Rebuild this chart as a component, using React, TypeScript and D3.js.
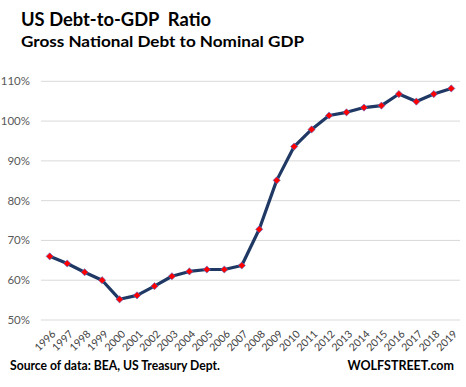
import React from "react";
import * as d3 from "d3";

const years = ["1996","1997","1998","1999","2000","2001","2002","2003","2004","2005","2006","2007","2008","2009","2010","2011","2012","2013","2014","2015","2016","2017","2018","2019"];
const ratio = [66.0,64.2,62.0,60.0,55.2,56.2,58.5,61.0,62.2,62.7,62.7,63.7,72.8,85.1,93.6,97.9,101.4,102.2,103.4,103.9,106.8,104.9,106.8,108.2];
const yTicks = [50,60,70,80,90,100,110];

const W = 466, H = 387;
const left = 41, right = 460, top = 81.3, bottom = 320;

export default function App() {
  const x = d3.scaleBand<string>().domain(years).range([left, right]);
  const y = d3.scaleLinear().domain([50, 110]).range([bottom, top]);
  const line = d3.line<number>()
    .x((_, i) => (x(years[i]) as number) + x.bandwidth() / 2)
    .y(d => y(d));
  const fam = "Lato, 'Open Sans', sans-serif";
  return (
    <svg width={W} height={H} style={{ position: "absolute", left: 0, top: 0, background: "#fff" }}>
      <text x={21} y={26} fontFamily={fam} fontWeight="bold" fontSize={18.5} fill="#000" textLength={190} lengthAdjust="spacingAndGlyphs" style={{ whiteSpace: "pre" }}>US Debt-to-GDP  Ratio</text>
      <text x={21} y={47} fontFamily={fam} fontWeight="bold" fontSize={15.5} fill="#000" textLength={283} lengthAdjust="spacingAndGlyphs">Gross National Debt to Nominal GDP</text>
      {yTicks.map(t => (
        <g key={t}>
          <line x1={left} x2={right} y1={y(t)} y2={y(t)} stroke="#d9d9d9" strokeWidth={1} />
          <text x={30} y={y(t)} dy="0.35em" textAnchor="end" fontFamily={fam} fontSize={11.5} fill="#595959">{t}%</text>
        </g>
      ))}
      {years.map(yr => {
        const cx = (x(yr) as number) + x.bandwidth() / 2;
        return (
          <text key={yr} transform={`translate(${cx + 4},${bottom + 12}) rotate(-45)`} textAnchor="end" dy="0.35em" fontFamily={fam} fontSize={10.5} fill="#404040">{yr}</text>
        );
      })}
      <path d={line(ratio) || ""} fill="none" stroke="#1f3864" strokeWidth={3.2} strokeLinejoin="round" />
      {ratio.map((v, i) => {
        const cx = (x(years[i]) as number) + x.bandwidth() / 2;
        const cy = y(v);
        const s = 3.6;
        return (
          <path key={i} d={`M${cx},${cy - s}L${cx + s},${cy}L${cx},${cy + s}L${cx - s},${cy}Z`} fill="#ff0000" stroke="#4a6fd1" strokeWidth={0.6} />
        );
      })}
      <text x={10} y={370} fontFamily={fam} fontWeight="bold" fontSize={12.5} fill="#000" textLength={210} lengthAdjust="spacingAndGlyphs">Source of data: BEA, US Treasury Dept.</text>
      <text x={454} y={370} textAnchor="end" fontFamily={fam} fontWeight="bold" fontSize={12.5} fill="#000">WOLFSTREET.com</text>
    </svg>
  );
}
